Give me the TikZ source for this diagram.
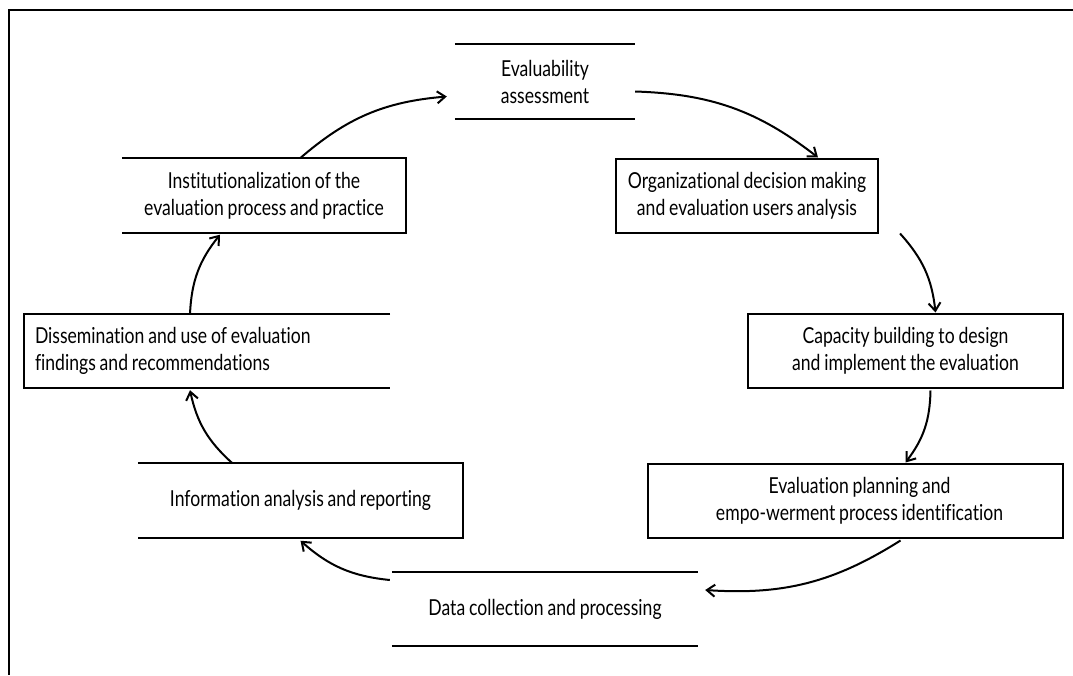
\documentclass[tikz,border=0pt]{standalone}
\usepackage{fontspec}
\setmainfont{Lato}[FakeStretch=0.8, WordSpace=0.85, Ligatures=NoCommon]
\usetikzlibrary{arrows.meta}

\begin{document}
\begin{tikzpicture}[x=1pt,y=-1pt,
    every node/.style={font=\fontsize{22}{27}\selectfont, align=center},
    stage/.style={rectangle, minimum height=74pt, inner sep=0pt},
    stagebox/.style={stage, draw, line width=2pt},
    rule/.style={line width=2pt},
    flow/.style={line width=2pt, -{Straight Barb[length=8pt,width=12pt]}, bend left=18}]

\useasboundingbox (0,0) rectangle (1073,675);

% ==== frame (only top and left edge visible) ====
\draw[line width=1.2pt] (1073,10) -- (9,10) -- (9,675);

% ==== the stages ====
\node[stage, minimum width=180pt] (eva) at (545,81.5) {Evaluability\\assessment};
\node[stagebox, minimum width=262pt] (org) at (747,195.5) {Organizational decision making\\and evaluation users analysis};
\node[stagebox, minimum width=315pt] (cap) at (905.5,350.5) {Capacity building to design\\and implement the evaluation};
\node[stagebox, minimum width=415pt] (plan) at (855.5,500.5) {\hspace*{8pt}Evaluation planning and\\\hspace*{8pt}empo-werment process identification};
\node[stage, minimum width=306pt] (data) at (545,609) {\raisebox{4pt}{Data collection and processing}};
\node[stage, minimum width=325pt] (info) at (300.5,500.5) {\raisebox{3pt}{Information analysis and reporting}};
\node[stage, minimum width=366pt] (diss) at (207,351) {\makebox[344pt][l]{Dissemination and use of evaluation}\\\makebox[344pt][l]{findings and recommendations}};
\node[stage, minimum width=284pt] (inst) at (264,195.5) {Institutionalization of the\\evaluation process and practice};

% open sides: only some edges drawn
\draw[rule] (eva.north west) -- (eva.north east);
\draw[rule] (eva.south west) -- (eva.south east);
\draw[rule] (data.north west) -- (data.north east);
\draw[rule] (data.south west) -- (data.south east);
\draw[rule] (info.north west) -- (info.north east) -- (info.south east) -- (info.south west);
\draw[rule] (diss.north east) -- (diss.north west) -- (diss.south west) -- (diss.south east);
\draw[rule] (inst.north west) -- (inst.north east) -- (inst.south east) -- (inst.south west);

% ==== the cycle of arrows ====
\draw[flow] ([xshift=36pt]inst.north) to ([xshift=-8pt,yshift=-15pt]eva.west);
\draw[flow] ([yshift=-10pt]eva.east) to ([xshift=71pt]org.north);
\draw[flow] ([xshift=153pt]org.south) to ([xshift=30pt]cap.north);
\draw[flow] ([xshift=25pt,yshift=-2pt]cap.south) to ([xshift=50pt]plan.north);
\draw[flow] ([xshift=45pt,yshift=-2pt]plan.south) to ([xshift=7pt,yshift=19pt]data.east);
\draw[flow] ([xshift=-2pt,yshift=29pt]data.west) to ([yshift=-3pt]info.south);
\draw[flow] ([xshift=-68pt]info.north) to ([xshift=-17pt,yshift=-2pt]diss.south);
\draw[flow] ([xshift=-17pt]diss.north) to ([xshift=-44pt,yshift=-2pt]inst.south);

\end{tikzpicture}
\end{document}
